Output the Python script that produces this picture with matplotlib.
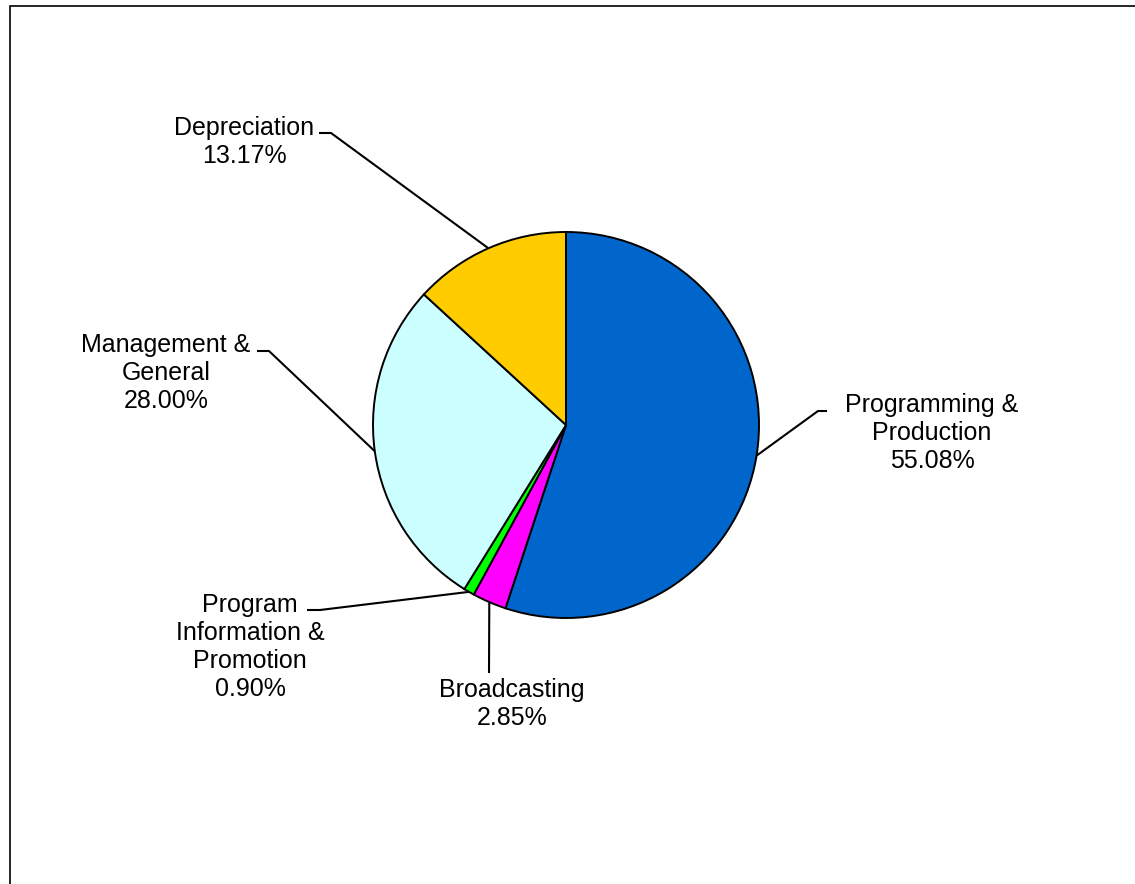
import numpy as np
import matplotlib
matplotlib.use("Agg")
import matplotlib.pyplot as plt
from matplotlib.patches import Rectangle

plt.rcParams["font.family"] = ["Liberation Sans", "DejaVu Sans"]

labels = ["Programming &\nProduction", "Broadcasting",
          "Program\nInformation &\nPromotion", "Management &\nGeneral",
          "Depreciation"]
shares = [55.08, 2.85, 0.90, 28.00, 13.17]
colors = ["#0066CC", "#FF00FF", "#00FF00", "#CCFFFF", "#FFCC00"]

W, H = 1135, 884
fig = plt.figure(figsize=(W / 100, H / 100), dpi=100)
ax = fig.add_axes([0, 0, 1, 1])

cx, cy, r = 566, H - 425, 193
wedges, _ = ax.pie(shares, colors=colors, startangle=90, counterclock=False,
                   center=(cx, cy), radius=r,
                   wedgeprops=dict(edgecolor="black", linewidth=1.4))
ax.set_xlim(0, W)
ax.set_ylim(0, H)
ax.set_aspect("equal")
ax.axis("off")

# label centre (px), elbow points (px) per slice
layout = [
    ((932, 433), [(827, 411), (818, 411)]),
    ((512, 704), [(489, 673)]),
    ((250, 647), [(307, 610), (320, 610)]),
    ((166, 373), [(257, 351), (269, 351)]),
    ((244, 142), [(319, 133), (331, 133)]),
]

for w, lab, val, (pos, elbow) in zip(wedges, labels, shares, layout):
    mid = np.deg2rad((w.theta1 + w.theta2) / 2)
    ex, ey = cx + r * np.cos(mid), cy + r * np.sin(mid)
    pts = [(x, H - y) for x, y in elbow] + [(ex, ey)]
    xs, ys = zip(*pts)
    ax.plot(xs, ys, color="black", lw=1.5, solid_capstyle="butt")
    ax.text(pos[0], H - pos[1], f"{lab}\n{val:.2f}%", ha="center",
            va="center", multialignment="center", fontsize=18,
            linespacing=1.22)

fig.add_artist(Rectangle((10 / W, -0.01), 1.1, (H - 6) / H + 0.01,
                         transform=fig.transFigure, fill=False,
                         edgecolor="black", linewidth=1.2))

fig.savefig("out.png", dpi=100)
